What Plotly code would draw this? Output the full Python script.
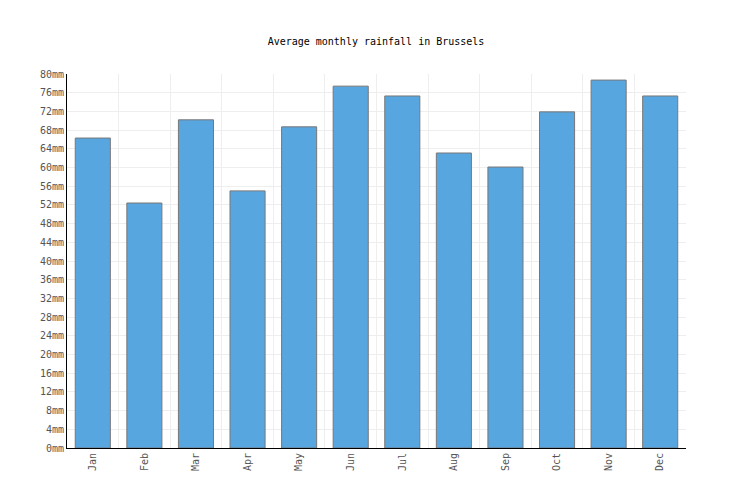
import plotly.graph_objects as go

months = ['Jan', 'Feb', 'Mar', 'Apr', 'May', 'Jun', 'Jul', 'Aug', 'Sep', 'Oct', 'Nov', 'Dec']
rainfall = [66.3, 52.4, 70.2, 55.0, 68.7, 77.4, 75.3, 63.1, 60.1, 71.9, 78.7, 75.3]
tick_vals = list(range(0, 81, 4))
tick_text = ['%dmm' % v for v in tick_vals]

fig = go.Figure(go.Bar(
    x=months, y=rainfall, width=0.68,
    marker=dict(color='#58a6df', line=dict(color='#777777', width=1)),
))

fig.update_layout(
    width=736, height=500,
    margin=dict(l=59, r=58, t=66, b=60, autoexpand=False),
    paper_bgcolor='white', plot_bgcolor='white',
    font=dict(family='DejaVu Sans Mono', size=10, color='#555555'),
    title=dict(text='Average monthly rainfall in Brussels', x=0.5, y=0.934,
               xanchor='center', yanchor='middle', font=dict(size=10, color='black')),
    showlegend=False,
    xaxis=dict(type='category', tickson='boundaries', showgrid=True, gridcolor='#eeeeee',
               tickangle=-90, showline=True, linecolor='black', linewidth=1,
               ticks='', range=[-0.5, 11.5], automargin=False),
    yaxis=dict(range=[0, 80], tickvals=tick_vals, ticktext=tick_text, showgrid=True,
               gridcolor='#eeeeee', showline=True, linecolor='black', linewidth=1,
               zeroline=False, ticks='', automargin=False),
)

fig.write_html('out.html')
